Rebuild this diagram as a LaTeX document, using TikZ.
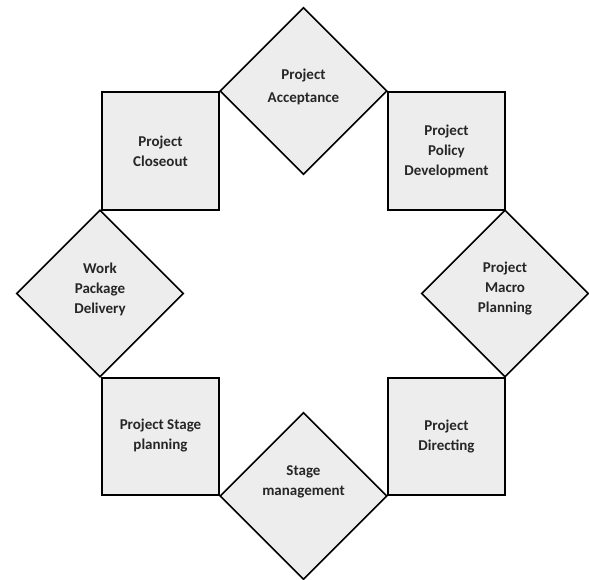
\documentclass[tikz,border=0pt]{standalone}
\usepackage{fontspec}
\setmainfont{Carlito}
\usetikzlibrary{shapes.geometric}
\definecolor{boxfill}{HTML}{EDEDED}
\definecolor{inkgray}{HTML}{262626}
\begin{document}
\begin{tikzpicture}[x=1pt,y=-1pt,
  stagebox/.style={draw=black, line width=1.6pt, fill=boxfill,
    minimum size=117.5pt, inner sep=0pt},
  gatebox/.style={diamond, aspect=1, draw=black, line width=1.6pt, fill=boxfill,
    minimum width=167pt, minimum height=167pt, inner sep=0pt},
  caption/.style={align=center, inner sep=0pt,
    font=\fontsize{15}{20}\selectfont\bfseries, text=inkgray}]
\useasboundingbox (0,0) rectangle (589,580);

% ring of stages (squares) and gates (diamonds)
\node[gatebox]  (accept)    at (303.5,91)    {};
\node[stagebox] (closeout)  at (160.5,151)   {};
\node[stagebox] (policy)    at (446.5,151)   {};
\node[gatebox]  (macro)     at (505,293.5)   {};
\node[stagebox] (directing) at (446.5,436.5) {};
\node[gatebox]  (stagemgmt) at (303.5,496)   {};
\node[stagebox] (stageplan) at (160.5,436.5) {};
\node[gatebox]  (workpkg)   at (100,293.5)   {};

% captions
\node[caption] (accept-t)    at (303.5,87)  {Project\\[3pt]Acceptance};
\node[caption] (closeout-t)  at (160.5,151) {Project\\Closeout};
\node[caption] (policy-t)    at (446.5,151) {Project\\Policy\\Development};
\node[caption] (macro-t)     at (505,289)   {Project\\Macro\\Planning};
\node[caption] (directing-t) at (446.5,437) {Project\\Directing};
\node[caption] (stagemgmt-t) at (303.5,482) {Stage\\management};
\node[caption] (stageplan-t) at (160.5,436) {Project Stage\\planning};
\node[caption] (workpkg-t)   at (100,289)   {Work\\Package\\Delivery};
\end{tikzpicture}
\end{document}
